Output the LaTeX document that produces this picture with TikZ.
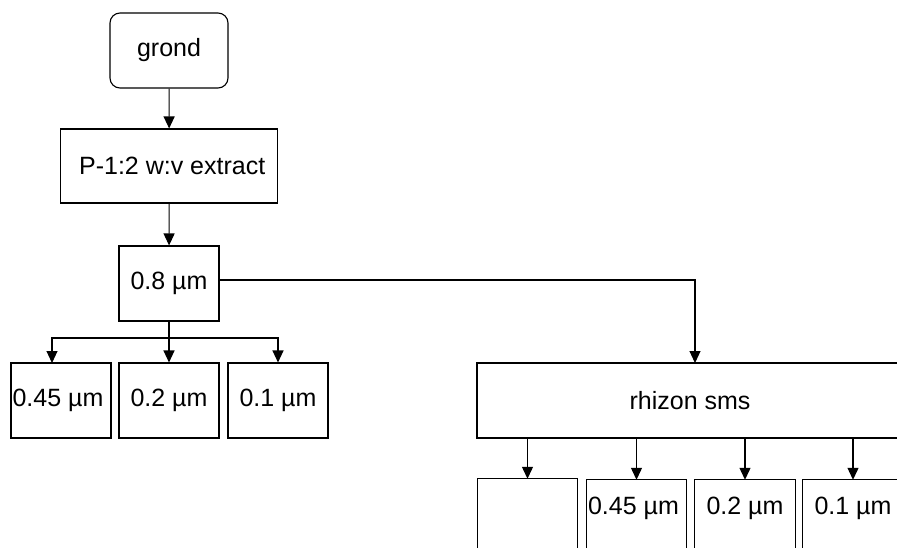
\documentclass[tikz,border=0pt]{standalone}
\usepackage{fontspec}
\setmainfont{Liberation Sans}
\usetikzlibrary{arrows.meta}
\begin{document}
\begin{tikzpicture}[x=1pt,y=-1pt,
  font=\fontsize{25}{30}\selectfont,
  boxstyle/.style={draw,line width=1.1pt,inner sep=0pt,minimum width=100pt,minimum height=75pt},
  roundbox/.style={boxstyle,rounded corners=10pt,minimum width=118pt},
  plain/.style={inner sep=0pt,minimum width=100pt,minimum height=56pt},
  conn/.style={line width=1.1pt,-{Triangle[length=12pt,width=11pt]}},
  wire/.style={line width=1.1pt}]
\useasboundingbox (0,0) rectangle (897,547);
\clip (0,0) rectangle (897,547);
% nodes
\node[roundbox] (grond) at (169,50.5) {grond};
\node[boxstyle,minimum width=217pt,minimum height=74pt] (pext) at (169.2,166) {\hspace{6pt}P-1:2 w:v extract};
\node[boxstyle] (m08) at (169,283.5) {0.8 µm};
\node[boxstyle] (a045) at (61,400.5) {\hspace{-6pt}0.45 µm};
\node[boxstyle] (a02) at (169,400.5) {0.2 µm};
\node[boxstyle] (a01) at (278,400.5) {0.1 µm};
\node[boxstyle,minimum width=426pt] (rhizon) at (690,400.5) {rhizon sms};
\node[plain] (b0) at (527.5,507) {};
\node[plain] (b045) at (636.5,508) {\hspace{-6pt}0.45 µm};
\node[plain] (b02) at (745,508) {0.2 µm};
\node[plain] (b01) at (853,508) {0.1 µm};
\foreach \n in {b0,b045,b02,b01}{
  \draw[wire] ([yshift=-90pt]\n.north west) -- (\n.north west) -- (\n.north east) -- ([yshift=-90pt]\n.north east);
}
% coordinates
\coordinate (rin) at (695,363);
\coordinate (split) at (169,338);
\coordinate (l045) at (52,363);
% connectors
\draw[conn] (grond) -- (pext);
\draw[conn] (pext) -- (m08);
\draw[conn] ([yshift=3.5pt]m08.east) -| (rin);
\draw[wire] (m08.south) -- (split);
\draw[conn] (split) -| (l045);
\draw[conn] (split) -- (a02.north);
\draw[conn] (split) -| (a01.north);
\draw[conn] (rhizon.south -| b0.north) -- (b0.north);
\draw[conn] (rhizon.south -| b045.north) -- (b045.north);
\draw[conn] (rhizon.south -| b02.north) -- (b02.north);
\draw[conn] (rhizon.south -| b01.north) -- (b01.north);
\end{tikzpicture}
\end{document}
